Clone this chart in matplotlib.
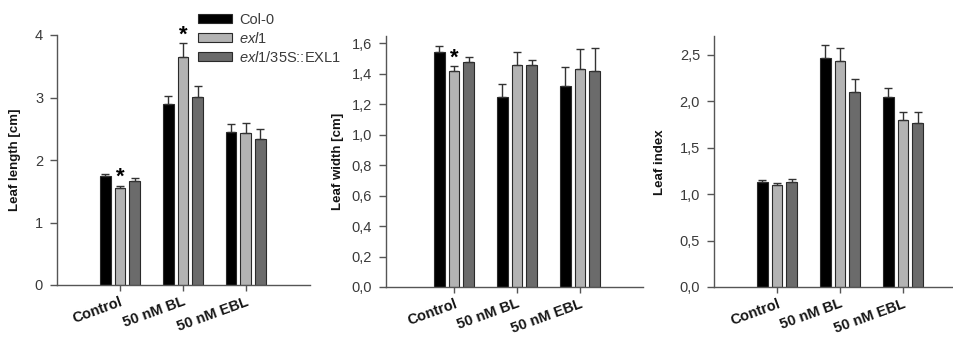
import numpy as np
import matplotlib
matplotlib.use("Agg")
import matplotlib.pyplot as plt
from matplotlib.patches import Patch

plt.rcParams['font.family'] = ['Liberation Sans', 'DejaVu Sans']
plt.rcParams['mathtext.fontset'] = 'custom'
plt.rcParams['mathtext.rm'] = 'Liberation Sans'
plt.rcParams['mathtext.it'] = 'Liberation Sans:italic'

# data
treatments = ["Control", "50 nM BL", "50 nM EBL"]
genotypes = ["Col-0", r"$\mathit{exl1}$", r"$\mathit{exl1}$/35S::EXL1"]
colors = ["#000000", "#b3b3b3", "#6b6b6b"]

length_mean = [[1.75, 2.90, 2.45], [1.56, 3.65, 2.44], [1.66, 3.01, 2.34]]
length_err = [[0.03, 0.12, 0.12], [0.02, 0.23, 0.15], [0.06, 0.18, 0.15]]
width_mean = [[1.545, 1.249, 1.319], [1.417, 1.46, 1.43], [1.477, 1.46, 1.417]]
width_err = [[0.035, 0.085, 0.127], [0.033, 0.085, 0.13], [0.035, 0.03, 0.154]]
index_mean = [[1.135, 2.464, 2.047], [1.10, 2.44, 1.80], [1.13, 2.105, 1.771]]
index_err = [[0.015, 0.146, 0.097], [0.017, 0.13, 0.086], [0.037, 0.14, 0.115]]

length_ticks = [0, 1, 2, 3, 4]
width_ticks = [0.0, 0.2, 0.4, 0.6, 0.8, 1.0, 1.2, 1.4, 1.6]
index_ticks = [0.0, 0.5, 1.0, 1.5, 2.0, 2.5]

# (panel, group, genotype, y)
stars = [(0, 0, 1, 1.72), (0, 1, 1, 3.99), (1, 0, 1, 1.505)]

W, H = 954, 337
fig = plt.figure(figsize=(W / 100, H / 100), dpi=100)

def px_axes(left, bottom_px, width, height):
    return fig.add_axes([left / W, (H - bottom_px) / H, width / W, height / H])

axes = [px_axes(57, 285, 253, 250),
        px_axes(386, 287, 257, 250.6),
        px_axes(714, 287, 252, 250.6)]
panels = [
    (length_mean, length_err, length_ticks, "Leaf length [cm]", (0, 4), (0, 4.02), -0.142, False),
    (width_mean, width_err, width_ticks, "Leaf width [cm]", (0, 1.646), (-0.08, 4.0), -0.163, True),
    (index_mean, index_err, index_ticks, "Leaf index", (0, 2.7), (0, 4.0), -0.19, True),
]

x = np.arange(1, len(treatments) + 1)
offset = 0.233
bw = 0.17
spine_c = "#555555"
text_c = "#3a3a3a"

for ax, (means, errs, ticks, ylab, ylim, xlim, labx, comma) in zip(axes, panels):
    for i, (m, e) in enumerate(zip(means, errs)):
        pos = x + (i - 1) * offset
        ax.bar(pos, m, bw, color=colors[i], edgecolor="#2a2a2a", linewidth=0.8,
               yerr=[np.zeros(len(e)), e], capsize=3.2,
               error_kw=dict(ecolor="#333333", elinewidth=1.0, capthick=1.0), zorder=2)
    ax.set_ylim(*ylim)
    ax.set_xlim(*xlim)
    ax.set_yticks(ticks)
    if comma:
        ax.set_yticklabels([f"{t:.1f}".replace(".", ",") for t in ticks])
    else:
        ax.set_yticklabels([str(t) for t in ticks])
    ax.set_xticks(x)
    ax.set_xticklabels(treatments, rotation=20, ha="right", va="top",
                       rotation_mode="anchor", fontweight="bold", fontsize=10.5)
    ax.tick_params(axis="y", direction="out", length=5, width=1, colors=spine_c,
                   labelcolor=text_c, labelsize=10.5, pad=5)
    ax.tick_params(axis="x", direction="out", length=4, width=1, colors=spine_c,
                   labelcolor="#151515", pad=3)
    for s in ["top", "right"]:
        ax.spines[s].set_visible(False)
    for s in ["left", "bottom"]:
        ax.spines[s].set_color(spine_c)
        ax.spines[s].set_linewidth(1.0)
    ax.set_ylabel(ylab, fontweight="bold", fontsize=9.5, color="#151515")
    ax.yaxis.set_label_coords(labx, 0.5)

for p, g, k, y in stars:
    axes[p].text(x[g] + (k - 1) * offset, y, "*", ha="center", va="center",
                 fontsize=16, fontweight="bold", clip_on=False)

handles = [Patch(facecolor=c, edgecolor="#2a2a2a", linewidth=0.8) for c in colors]
fig.legend(handles, genotypes, loc="upper left", bbox_to_anchor=(198 / W, 1 - 12.5 / H),
           frameon=False, fontsize=10.5, handlelength=2.33, handleheight=0.62,
           handletextpad=0.48, labelspacing=0.28, borderpad=0, borderaxespad=0,
           labelcolor=text_c)

fig.savefig("out.png", dpi=100)
